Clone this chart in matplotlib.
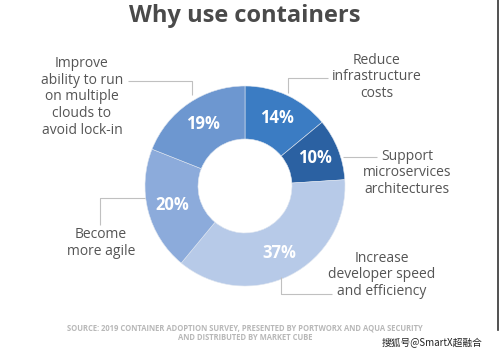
import matplotlib
matplotlib.use("Agg")
import matplotlib.pyplot as plt

# ---- data ----
categories = [
    "Reduce\ninfrastructure\ncosts",
    "Support\nmicroservices\narchitectures",
    "Increase\ndeveloper speed\nand efficiency",
    "Become\nmore agile",
    "Improve\nability to run\non multiple\nclouds to\navoid lock-in",
]
values = [14, 10, 37, 20, 19]
colors = ["#3b7cc3", "#2b61a2", "#b7cae8", "#8cabdb", "#6d97d0"]

title = "Why use containers"
source_lines = ["SOURCE: 2019 CONTAINER ADOPTION SURVEY, PRESENTED BY PORTWORX AND AQUA SECURITY",
                "AND DISTRIBUTED BY MARKET CUBE"]
watermark = "搜狐号@SmartX超融合"

W, H = 500, 353
fig = plt.figure(figsize=(W / 100, H / 100), dpi=100)
ax = fig.add_axes([0, 0, 1, 1])
ax.set_xlim(0, W)
ax.set_ylim(0, H)
ax.set_aspect("equal")
ax.axis("off")

def Y(y):
    return H - y

cx, cy, R = 245, 186, 100
wedges, _, autotexts = ax.pie(
    values, colors=colors, startangle=90, counterclock=False,
    center=(cx, Y(cy)), radius=R, frame=True,
    wedgeprops=dict(width=53, linewidth=0.4, edgecolor="#dfe6f0"),
    autopct=lambda p: f"{p:.0f}%", pctdistance=0.75,
    textprops=dict(color="white", fontsize=12, fontweight="bold", family="Open Sans"),
)
ax.set_xlim(0, W)
ax.set_ylim(0, H)
ax.axis("off")

ax.text(245, Y(16), title, ha="center", va="center", fontsize=17,
        fontweight="bold", color="#4a4a4a", family="Open Sans")

lab_kw = dict(ha="center", va="center", fontsize=10, color="#555555",
              family="Open Sans", linespacing=1.15)
label_pos = [(377, 77), (407, 173), (382, 275), (101, 243), (82, 97)]
for txt, (x, y) in zip(categories, label_pos):
    ax.text(x, Y(y), txt, **lab_kw)

line_kw = dict(color="#c0c0c0", lw=0.8, solid_capstyle="butt")
leaders = [
    ([288, 288, 328], [93, 78, 78]),
    ([343, 377], [157, 157]),
    ([281, 281, 332], [277, 294, 294]),
    ([145, 100, 100], [198, 198, 225]),
    ([128, 192, 192], [81, 81, 95]),
]
for xs, ys in leaders:
    ax.plot(xs, [Y(v) for v in ys], **line_kw)

src_kw = dict(ha="center", va="center", fontsize=5.5, fontweight="bold",
              color="#b8b8b8", family="Open Sans")
ax.text(245, Y(328), source_lines[0], **src_kw)
ax.text(245, Y(338), source_lines[1], **src_kw)

ax.plot([497.5, 497.5], [Y(0), Y(330)], color="#333333", lw=1.2)

ax.text(432, Y(343), watermark, ha="center", va="center", fontsize=7,
        color="#222222", family=["Noto Sans CJK SC", "DejaVu Sans"])

fig.savefig("out.png", dpi=100, facecolor="white")
